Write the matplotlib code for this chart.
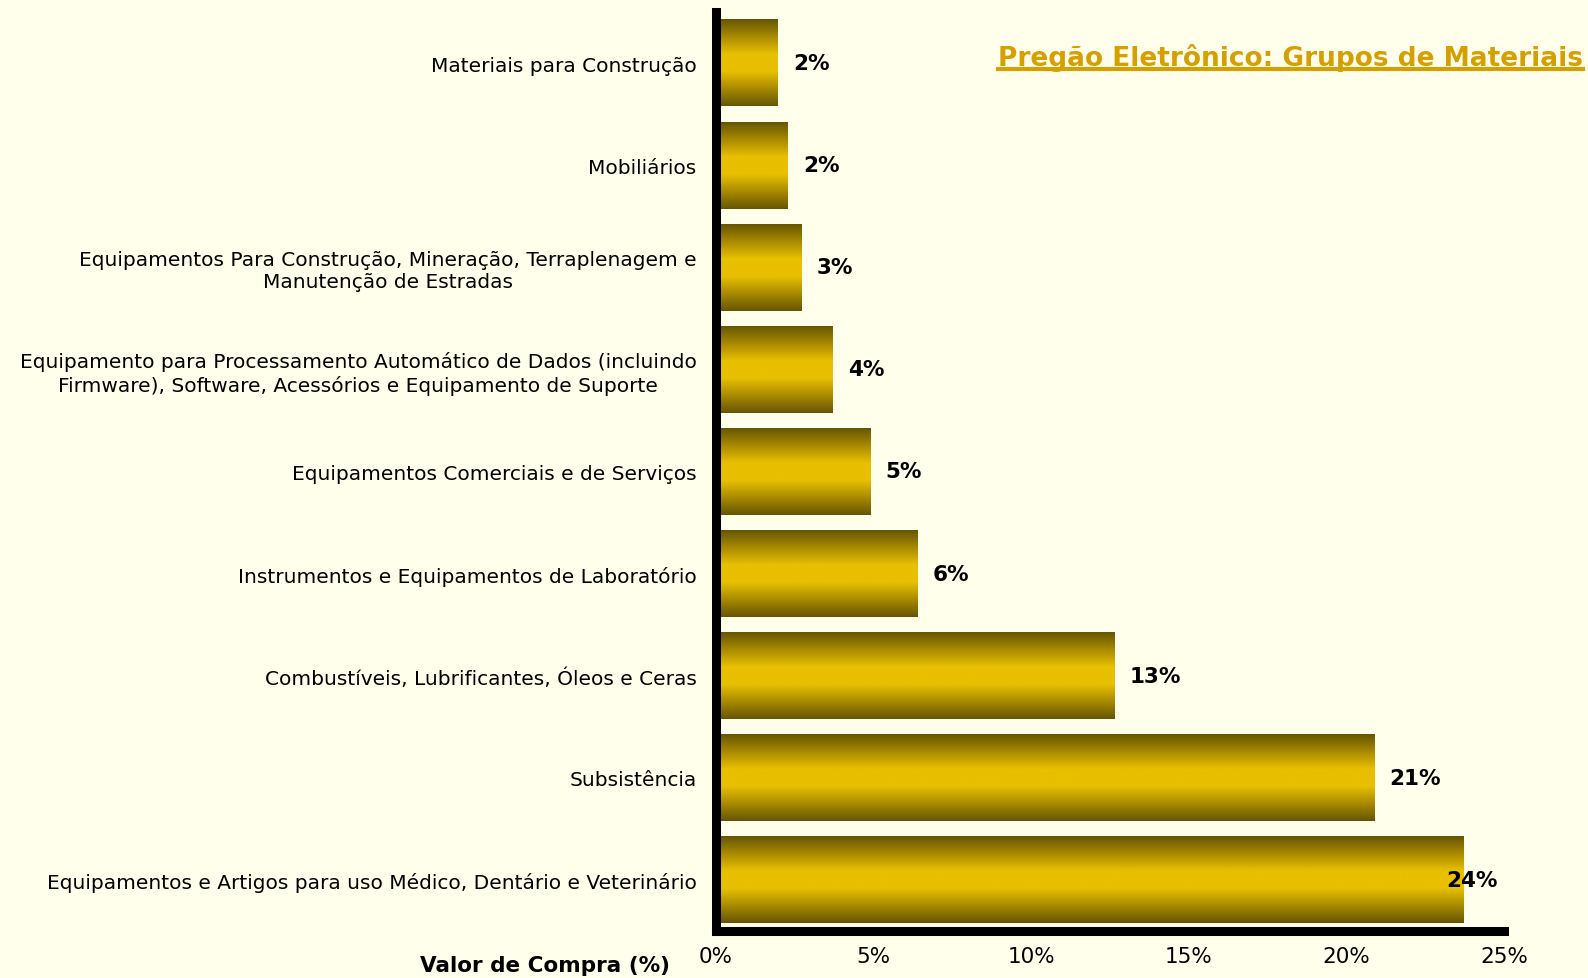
import numpy as np
import matplotlib.pyplot as plt
from matplotlib.colors import LinearSegmentedColormap
from matplotlib.lines import Line2D

plt.rcParams['font.family'] = ['DejaVu Sans']

# grupos de materiais, de cima para baixo
grupos = [
    'Materiais para Construção',
    'Mobiliários',
    'Equipamentos Para Construção, Mineração, Terraplenagem e\nManutenção de Estradas',
    'Equipamento para Processamento Automático de Dados (incluindo\nFirmware), Software, Acessórios e Equipamento de Suporte',
    'Equipamentos Comerciais e de Serviços',
    'Instrumentos e Equipamentos de Laboratório',
    'Combustíveis, Lubrificantes, Óleos e Ceras',
    'Subsistência',
    'Equipamentos e Artigos para uso Médico, Dentário e Veterinário',
]
valor_pct = [1.96, 2.28, 2.70, 3.70, 4.89, 6.40, 12.63, 20.88, 23.71]
x_ticks = [0, 5, 10, 15, 20, 25]

fundo = '#FFFFEC'
ouro = LinearSegmentedColormap.from_list(
    'ouro', ['#665500', '#A88A00', '#E8C000', '#E8C000', '#A88A00', '#665500'])

fig = plt.figure(figsize=(15.88, 9.79), dpi=100, facecolor=fundo)
ax = fig.add_axes([716 / 1588, 1 - 932 / 979, (1504 - 716) / 1588, (932 - 13) / 979])
ax.set_facecolor(fundo)

n = len(grupos)
altura = 0.85
grad = np.linspace(0, 1, 256).reshape(-1, 1)
for i, v in enumerate(valor_pct):
    # barra com gradiente vertical (efeito cilindro)
    ax.imshow(grad, cmap=ouro, aspect='auto', interpolation='bilinear',
              extent=[0, v, i + altura / 2, i - altura / 2], zorder=2)
    rotulo = f'{v:.0f}%'
    if v > 23:
        ax.annotate(rotulo, (24.8, i), ha='right', va='center',
                    fontsize=15.5, fontweight='bold', zorder=4)
    else:
        ax.annotate(rotulo, (v, i), xytext=(11, 0), textcoords='offset points',
                    ha='left', va='center', fontsize=15.5, fontweight='bold', zorder=4)

ax.set_xlim(0, 25)
ax.set_ylim(n - 0.5, -0.5)

for lado in ['top', 'right']:
    ax.spines[lado].set_visible(False)
for lado in ['left', 'bottom']:
    ax.spines[lado].set_linewidth(6.5)
    ax.spines[lado].set_zorder(5)

ax.set_yticks(range(n))
ax.set_yticklabels(grupos, fontsize=14.5, multialignment='center')
ax.set_yticks(np.arange(-0.5, n, 1), minor=True)
ax.tick_params(axis='y', which='major', length=0, pad=14)
ax.tick_params(axis='y', which='minor', length=3, width=5, direction='out')

ax.set_xticks(x_ticks)
ax.set_xticklabels([f'{t}%' for t in x_ticks], fontsize=15.5)
ax.tick_params(axis='x', length=3, width=5, pad=8)

fig.text(670 / 1588, 1 - 972 / 979, 'Valor de Compra (%)', ha='right', va='baseline',
         fontsize=15.5, fontweight='bold')

titulo = fig.text(998 / 1588, 1 - 66 / 979, 'Pregão Eletrônico: Grupos de Materiais',
                  ha='left', va='baseline', fontsize=19, fontweight='bold', color='#D4A000')

# sublinhado do título
fig.canvas.draw()
bb = titulo.get_window_extent().transformed(fig.transFigure.inverted())
y_sub = 1 - 70 / 979
fig.add_artist(Line2D([bb.x0, bb.x1], [y_sub, y_sub], transform=fig.transFigure,
                      color='#D4A000', linewidth=3))

fig.savefig('out.png', dpi=100, facecolor=fundo)
